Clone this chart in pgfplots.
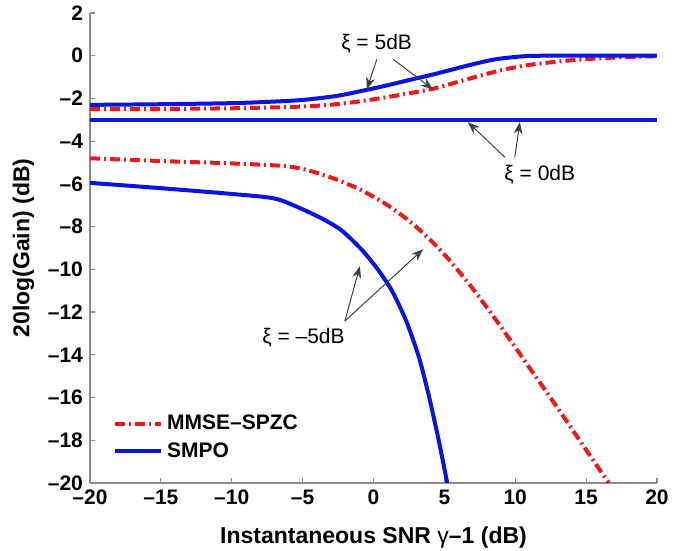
\documentclass[border=0pt]{standalone}
\usepackage{fontspec}
\setmainfont{Liberation Sans}
\usepackage{pgfplots}
\pgfplotsset{compat=1.18}
\usetikzlibrary{arrows.meta,calc}
\definecolor{cBlue}{RGB}{10,20,225}
\definecolor{cRed}{RGB}{235,25,25}
\definecolor{cAx}{RGB}{140,140,140}

\begin{document}
\begin{tikzpicture}
\begin{axis}[
    scale only axis, width=283.5pt, height=235pt,
    xmin=-20, xmax=20, ymin=-20, ymax=2,
    axis x line*=bottom, axis y line*=left,
    axis line style={cAx, line width=0.6pt},
    tick style={cAx, line width=0.6pt}, tick align=inside,
    major tick length=2.5pt,
    xtick={-20,-15,...,20},
    xticklabels={--20,--15,--10,--5,0,5,10,15,20},
    ytick={-20,-18,...,2},
    yticklabels={--20,--18,--16,--14,--12,--10,--8,--6,--4,--2,0,2},
    ticklabel style={font=\fontsize{10.5}{12}\selectfont\bfseries},
    xlabel={Instantaneous SNR {\mdseries γ}--1 (dB)},
    ylabel={20log(Gain) (dB)},
    label style={font=\fontsize{11.5}{13}\selectfont\bfseries},
    xlabel style={yshift=-4pt},
    legend cell align=left,
    legend style={at={(axis cs:-18.4,-16.6)}, anchor=north west, draw=none, fill=none,
        font=\fontsize{10.5}{12}\selectfont\bfseries, inner sep=0pt, row sep=1pt},
    legend image code/.code={\draw[#1] (0pt,0pt) -- (23pt,0pt);},
  ]
  % xi = -5 dB
  \addplot[cRed, line width=2pt, dash pattern=on 5pt off 2pt on 1pt off 2pt, smooth, tension=0.5] coordinates {
    (-20,-4.8)(-15,-4.93)(-10,-5.04)(-6.6,-5.15)(-5,-5.3)(-3,-5.7)(-1,-6.25)(1,-7.0)
    (3,-8.0)(5,-9.3)(7,-10.9)(9,-12.7)(11,-14.6)(13,-16.5)(15,-18.45)(16.6,-20)};
  \addlegendentry{MMSE--SPZC}
  \addplot[cBlue, line width=2pt, smooth, tension=0.4] coordinates {
    (-20,-5.95)(-15,-6.2)(-10,-6.47)(-6.8,-6.71)(-4,-7.5)(-2.3,-8.15)(-0.8,-9.1)
    (0.3,-10.0)(1.3,-11.0)(2.3,-12.4)(3.2,-14.1)(3.9,-15.9)(4.6,-18.0)(5.2,-20)};
  \addlegendentry{SMPO}
  % xi = 5 dB
  \addplot[cRed, line width=2pt, dash pattern=on 5pt off 2pt on 1pt off 2pt, smooth, tension=0.5, forget plot] coordinates {
    (-20,-2.5)(-15,-2.49)(-10,-2.46)(-5,-2.38)(-2.5,-2.26)(-0.4,-2.08)(2,-1.82)(4.3,-1.53)
    (6.5,-1.12)(9,-0.68)(11,-0.43)(13.8,-0.22)(16,-0.12)(18,-0.06)(20,-0.02)};
  \addplot[cBlue, line width=2pt, smooth, tension=0.5, forget plot] coordinates {
    (-20,-2.3)(-15,-2.27)(-10,-2.22)(-7.5,-2.16)(-5,-2.07)(-2.5,-1.87)(-0.5,-1.6)(1,-1.38)
    (2.5,-1.14)(4.3,-0.86)(6.7,-0.45)(8.5,-0.18)(10.3,-0.04)(12,0)(20,0)};
  % xi = 0 dB
  \addplot[cBlue, line width=2pt, forget plot] coordinates {(-20,-3)(20,-3)};

  \tikzset{ann/.style={black!75, line width=0.5pt, -{Stealth[length=6pt,width=4.5pt]}}}
  \node[font=\fontsize{10.5}{12}\selectfont] at (axis cs:0.22,0.54) {ξ = 5dB};
  \draw[ann] (axis cs:0.24,-0.16) -- (axis cs:-0.47,-1.57);
  \draw[ann] (axis cs:1.37,-0.16) -- (axis cs:4.19,-1.57);
  \node[font=\fontsize{10.5}{12}\selectfont] at (axis cs:11.73,-5.55) {ξ = 0dB};
  \draw[ann] (axis cs:9.27,-4.75) -- (axis cs:6.66,-3.11);
  \draw[ann] (axis cs:9.97,-4.75) -- (axis cs:10.32,-3.11);
  \node[font=\fontsize{10.5}{12}\selectfont] at (axis cs:-4.94,-13.19) {ξ = --5dB};
  \draw[ann] (axis cs:-2.02,-12.42) -- (axis cs:-0.96,-9.85);
  \draw[ann] (axis cs:-2.02,-12.42) -- (axis cs:3.5,-9.06);
\end{axis}
\pgfresetboundingbox
\path[use as bounding box] ($(current axis.south west)+(-45pt,-34pt)$) rectangle ($(current axis.north east)+(14pt,6.5pt)$);
\end{tikzpicture}
\end{document}
